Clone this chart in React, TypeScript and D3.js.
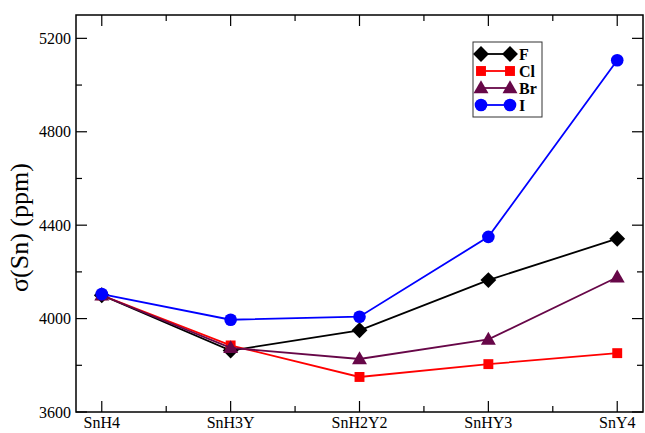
import React from "react";
import * as d3 from "d3";

const categories = ["SnH4", "SnH3Y", "SnH2Y2", "SnHY3", "SnY4"];
const seriesNames = ["F", "Cl", "Br", "I"];
const valuesF = [4100, 3863, 3950, 4165, 4342];
const valuesCl = [4100, 3885, 3750, 3805, 3852];
const valuesBr = [4100, 3875, 3827, 3911, 4177];
const valuesI = [4105, 3995, 4008, 4350, 5106];
const yTicks = [3600, 4000, 4400, 4800, 5200];
const yMinorTicks = [3800, 4200, 4600, 5000];

const W = 645;
const H = 433;
const m = { left: 76, right: 643, top: 15, bottom: 412 };

const colors: Record<string, string> = {
  F: "#000000",
  Cl: "#ff0000",
  Br: "#670748",
  I: "#0000ff",
};

const symbolTypes: Record<string, d3.SymbolType> = {
  F: d3.symbolDiamond2,
  Cl: d3.symbolSquare2,
  Br: d3.symbolTriangle2,
  I: d3.symbolCircle,
};
const symbolSizes: Record<string, number> = { F: 160, Cl: 125, Br: 160, I: 125 };

const data: Record<string, number[]> = { F: valuesF, Cl: valuesCl, Br: valuesBr, I: valuesI };

const serif = "Liberation Serif, Times New Roman, DejaVu Serif, serif";
const textStyle = { fontFamily: serif };

export default function App() {
  const x = d3.scaleLinear().domain([0.8, 5.2]).range([m.left, m.right]);
  const y = d3.scaleLinear().domain([3600, 5300]).range([m.bottom, m.top]);
  const line = d3
    .line<number>()
    .x((_, i) => x(i + 1))
    .y((v) => y(v));
  const xMinor = [1.5, 2.5, 3.5, 4.5];
  const major = 11;
  const minor = 6;

  const legendX = 473;
  const legendY = 42;
  const legendRowY = (i: number) => legendY + 12 + i * 17;

  return (
    <svg
      width={W}
      height={H}
      style={{ position: "absolute", left: 0, top: 0, background: "#fff" }}
    >
      {/* ticks, pointing inward on all four sides */}
      <g stroke="#000" strokeWidth={1.2}>
        {categories.map((_, i) => (
          <g key={"xt" + i}>
            <line x1={x(i + 1)} x2={x(i + 1)} y1={m.bottom} y2={m.bottom - major} />
            <line x1={x(i + 1)} x2={x(i + 1)} y1={m.top} y2={m.top + major} />
          </g>
        ))}
        {xMinor.map((v) => (
          <g key={"xm" + v}>
            <line x1={x(v)} x2={x(v)} y1={m.bottom} y2={m.bottom - minor} />
            <line x1={x(v)} x2={x(v)} y1={m.top} y2={m.top + minor} />
          </g>
        ))}
        {yTicks.map((v) => (
          <g key={"yt" + v}>
            <line x1={m.left} x2={m.left + major} y1={y(v)} y2={y(v)} />
            <line x1={m.right} x2={m.right - major} y1={y(v)} y2={y(v)} />
          </g>
        ))}
        {yMinorTicks.map((v) => (
          <g key={"ym" + v}>
            <line x1={m.left} x2={m.left + minor} y1={y(v)} y2={y(v)} />
            <line x1={m.right} x2={m.right - minor} y1={y(v)} y2={y(v)} />
          </g>
        ))}
      </g>

      {/* tick labels */}
      {yTicks.map((v) => (
        <text key={"yl" + v} x={m.left - 5} y={y(v)} dy="0.35em" textAnchor="end" fontSize={16} style={textStyle}>
          {v}
        </text>
      ))}
      {categories.map((c, i) => (
        <text key={"xl" + c} x={x(i + 1)} y={m.bottom + 16} textAnchor="middle" fontSize={16} style={textStyle}>
          {c}
        </text>
      ))}

      <text
        transform={`translate(28,${(m.top + m.bottom) / 2 + 14}) rotate(-90)`}
        textAnchor="middle"
        fontSize={26}
        style={textStyle}
      >
        σ(Sn) (ppm)
      </text>

      {/* series */}
      {seriesNames.map((s) => (
        <g key={s}>
          <path d={line(data[s]) || ""} fill="none" stroke={colors[s]} strokeWidth={1.8} />
          {data[s].map((v, i) => (
            <path
              key={i}
              transform={`translate(${x(i + 1)},${y(v) + (s === "Br" ? 1 : 0)})`}
              d={d3.symbol(symbolTypes[s], symbolSizes[s])() || ""}
              fill={colors[s]}
            />
          ))}
        </g>
      ))}

      {/* frame */}
      <rect
        x={m.left}
        y={m.top}
        width={m.right - m.left}
        height={m.bottom - m.top}
        fill="none"
        stroke="#000"
        strokeWidth={1.5}
      />

      {/* legend */}
      <rect x={legendX} y={legendY} width={69} height={75} fill="#fff" stroke="#333" strokeWidth={1} />
      {seriesNames.map((s, i) => {
        const ly = legendRowY(i);
        return (
          <g key={"lg" + s}>
            <line x1={481} x2={510} y1={ly} y2={ly} stroke={colors[s]} strokeWidth={1.8} />
            {[481, 510].map((lx) => (
              <path
                key={lx}
                transform={`translate(${lx},${ly + (s === "Br" ? 1 : 0)})`}
                d={d3.symbol(symbolTypes[s], symbolSizes[s])() || ""}
                fill={colors[s]}
              />
            ))}
            <text x={519} y={ly} dy="0.35em" fontSize={16} fontWeight="bold" style={textStyle}>
              {s}
            </text>
          </g>
        );
      })}
    </svg>
  );
}
